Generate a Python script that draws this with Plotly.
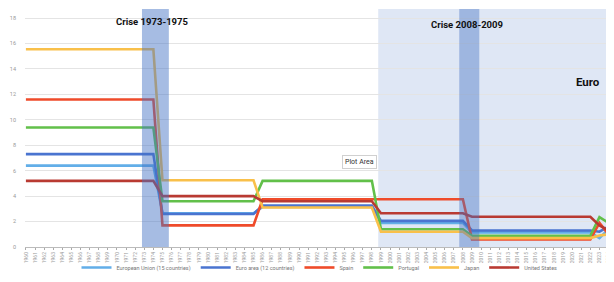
import plotly.graph_objects as go

years = list(range(1960, 2025))

# Period averages expanded per year: 1960-1974 (15), 1975-1985 (11), 1986-1998 (13),
# 1999-2008 (10), 2009-2022 (14), 2023, 2024
eu15 = [6.4] * 15 + [2.65] * 11 + [3.15] * 13 + [1.9] * 10 + [1.15] * 14 + [0.7, 1.4]
euro12 = [7.3] * 15 + [2.6] * 11 + [3.25] * 13 + [2.05] * 10 + [1.3] * 14 + [1.2, 1.6]
spain = [11.6] * 15 + [1.7] * 11 + [3.75] * 13 + [3.75] * 10 + [0.6] * 14 + [1.9, 1.0]
portugal = [9.4] * 15 + [3.6] * 11 + [5.2] * 13 + [1.4] * 10 + [0.88] * 14 + [2.35, 1.9]
japan = [15.55] * 15 + [5.25] * 11 + [3.1] * 13 + [1.2] * 10 + [0.7] * 14 + [0.9, 1.0]
usa = [5.2] * 15 + [4.0] * 11 + [3.6] * 13 + [2.65] * 10 + [2.38] * 14 + [1.7, 1.3]

series_names = ["European Union (15 countries)", "Euro area (12 countries)", "Spain",
                "Portugal", "Japan", "United States"]
series_values = [eu15, euro12, spain, portugal, japan, usa]
series_colors = ["#62aee8", "#4a74d0", "#ef4b2a", "#62c04a", "#f9c04a", "#b93a32"]

y_ticks = [0, 2, 4, 6, 8, 10, 12, 14, 16, 18]

fig = go.Figure()
for name, vals, col in zip(series_names, series_values, series_colors):
    fig.add_trace(go.Scatter(x=years, y=vals, mode="lines", name=name,
                             line=dict(color=col, width=2.6)))

shapes = [
    # Euro period (light)
    dict(type="rect", xref="x", yref="paper", x0=1998.7, x1=2025, y0=0, y1=1,
         fillcolor="rgba(68,114,196,0.17)", line=dict(width=0), layer="below"),
    # crisis 1973-1975
    dict(type="rect", xref="x", yref="paper", x0=1972.75, x1=1975.7, y0=0, y1=1,
         fillcolor="rgba(68,114,196,0.48)", line=dict(width=0), layer="above"),
    # crisis 2008-2009
    dict(type="rect", xref="x", yref="paper", x0=2007.6, x1=2009.8, y0=0, y1=1,
         fillcolor="rgba(68,114,196,0.42)", line=dict(width=0), layer="above"),
]

title_font = dict(family="Liberation Sans Narrow, Roboto", size=9.5, color="#111")
annotations = [
    dict(x=1973.85, y=17.69, xref="x", yref="y", text="<b>Crise 1973-1975</b>",
         showarrow=False, font=title_font),
    dict(x=2008.46, y=17.53, xref="x", yref="y", text="<b>Crise 2008-2009</b>",
         showarrow=False, font=title_font),
    dict(x=2021.76, y=12.97, xref="x", yref="y", text="<b>Euro</b>",
         showarrow=False, font=dict(family="Liberation Sans Narrow, Roboto", size=11.5, color="#111")),
    dict(x=1996.6, y=6.7, xref="x", yref="y", text="Plot Area",
         showarrow=False, font=dict(family="Roboto", size=7, color="#333"),
         bgcolor="white", bordercolor="#d0d0d0", borderwidth=1, borderpad=2),
]

# page body has an 8px margin, so the figure is sized/offset to compensate
fig.update_layout(
    width=606, height=274,
    margin=dict(l=17, r=0, t=1, b=35),
    paper_bgcolor="white", plot_bgcolor="white",
    showlegend=True,
    legend=dict(orientation="h", x=0.5, xanchor="center", y=-0.088, yanchor="middle",
                font=dict(family="Roboto", size=5.5, color="#777"),
                itemwidth=30, tracegroupgap=0, bgcolor="rgba(0,0,0,0)"),
    shapes=shapes, annotations=annotations,
    xaxis=dict(range=[1959.9, 2024.6], tickmode="array", tickvals=years,
               ticktext=[str(y) for y in years], tickangle=-90,
               tickfont=dict(family="Roboto", size=5, color="#999"),
               showgrid=False, showline=True, linecolor="#bbbbbb", linewidth=1,
               ticks="outside", ticklen=2, tickcolor="#aaa", zeroline=False,
               automargin=False),
    yaxis=dict(range=[0, 18.71], tickvals=y_ticks, ticktext=[str(v) for v in y_ticks],
               tickfont=dict(family="Roboto", size=5.5, color="#999"),
               showgrid=True, gridcolor="#e4e4e4", gridwidth=1, zeroline=False,
               showline=False, ticks="", ticklabelstandoff=8, automargin=False),
)

fig.write_html("out.html")
